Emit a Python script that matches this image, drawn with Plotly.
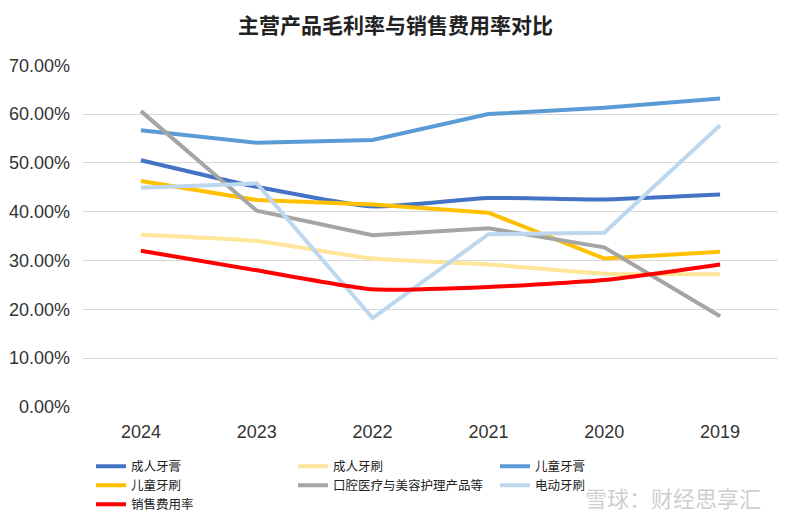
import plotly.graph_objects as go

years = ["2024", "2023", "2022", "2021", "2020", "2019"]
adult_paste = [0.5055, 0.451, 0.411, 0.428, 0.425, 0.435]
adult_brush = [0.353, 0.340, 0.304, 0.292, 0.273, 0.272]
kid_paste = [0.567, 0.541, 0.547, 0.600, 0.613, 0.632]
kid_brush = [0.463, 0.424, 0.415, 0.398, 0.304, 0.318]
oral_care = [0.606, 0.402, 0.352, 0.366, 0.327, 0.186]
electric_brush = [0.449, 0.458, 0.182, 0.354, 0.357, 0.577]
sales_exp = [0.320, 0.280, 0.241, 0.246, 0.260, 0.292]

series = [
    ("成人牙膏", adult_paste, "#4472C4", "spline", "legend"),
    ("成人牙刷", adult_brush, "#FFE699", "spline", "legend"),
    ("儿童牙膏", kid_paste, "#5B9BD5", "linear", "legend"),
    ("儿童牙刷", kid_brush, "#FFC000", "linear", "legend2"),
    ("口腔医疗与美容护理产品等", oral_care, "#A5A5A5", "linear", "legend2"),
    ("电动牙刷", electric_brush, "#BDD7EE", "linear", "legend2"),
    ("销售费用率", sales_exp, "#FF0000", "spline", "legend3"),
]

FONT = "Liberation Sans, Noto Sans CJK SC, sans-serif"
CJK = "Noto Sans CJK SC"

# the page body adds an 8px offset; figure is sized to fit the window
W, H = 779, 514
L, R, T, B = 75, 9, 57, 115
PW, PH = W - L - R, H - T - B

fig = go.Figure()
for name, vals, color, shape, lg in series:
    line = dict(color=color, width=4, shape=shape)
    if shape == "spline":
        line["smoothing"] = 0.5
    fig.add_trace(go.Scatter(x=years, y=vals, mode="lines", name=name, line=line, legend=lg))


def legend_row(ytop):
    return dict(orientation="h", xref="container", yref="container",
                x=83 / W, xanchor="left", y=ytop, yanchor="top",
                entrywidth=157, entrywidthmode="pixels", tracegroupgap=0,
                font=dict(size=12.5, color="#222222", family=CJK),
                bgcolor="rgba(0,0,0,0)")


fig.update_layout(
    width=W, height=H,
    margin=dict(l=L, r=R, t=T, b=B),
    paper_bgcolor="white", plot_bgcolor="white",
    title=dict(text="<b>主营产品毛利率与销售费用率对比</b>", x=387.5 / W, xanchor="center",
               y=1 - 18 / H, yanchor="middle",
               font=dict(family=CJK, size=21, color="#222222")),
    font=dict(family=FONT, color="#333333"),
    xaxis=dict(type="category", range=[-0.5, 5.5], showgrid=False, showline=False,
               ticks="", ticklabelstandoff=12, automargin=False,
               tickfont=dict(size=18, color="#333333", family=FONT)),
    yaxis=dict(range=[0, 0.7005], dtick=0.1, tickformat=".2%", showgrid=True,
               gridcolor="#D9D9D9", gridwidth=1, zeroline=False, showline=False,
               ticks="", ticklabelstandoff=12, automargin=False,
               tickfont=dict(size=18, color="#333333", family=FONT)),
    legend=legend_row(1 - 443.5 / H),
    legend2=legend_row(1 - 462.5 / H),
    legend3=legend_row(1 - 481.5 / H),
    showlegend=True,
)

fig.add_annotation(text="雪球：财经思享汇", xref="paper", yref="paper",
                   x=(755 - L) / PW, y=-(489 - (H - B)) / PH, xanchor="right", yanchor="middle",
                   showarrow=False,
                   font=dict(size=22, color="rgba(190,190,190,0.75)", family=CJK))

fig.write_html("out.html")
